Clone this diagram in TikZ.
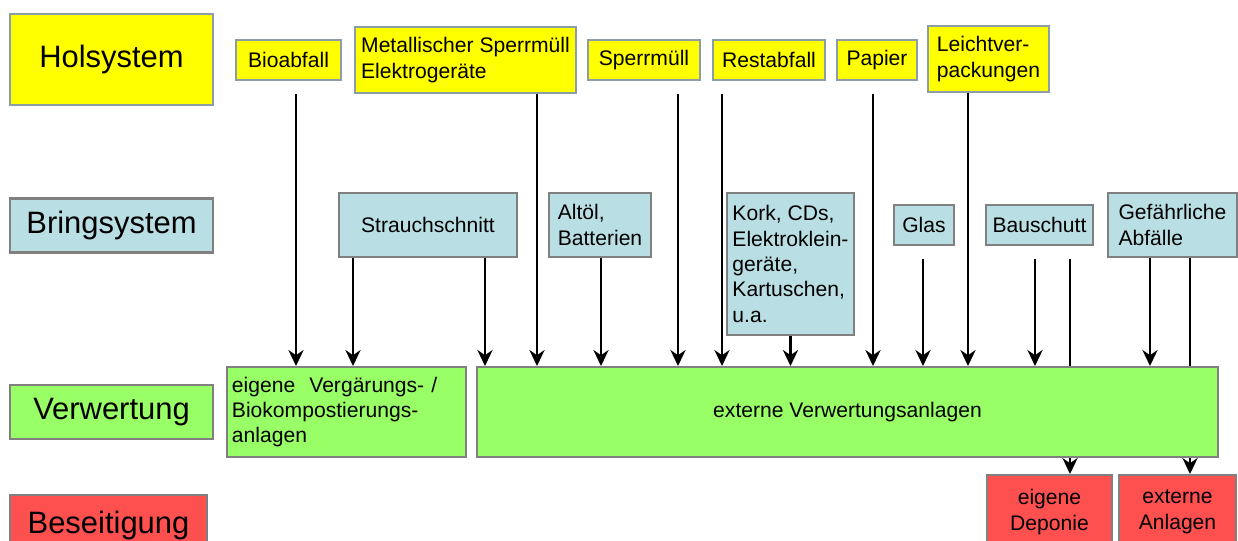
\documentclass[tikz,border=0pt]{standalone}
\usepackage{fontspec}
\setmainfont{Liberation Sans}
\usepackage{tikz}
\usetikzlibrary{arrows.meta}
\definecolor{holyellow}{HTML}{FFFF00}
\definecolor{holframe}{HTML}{8C9DA8}
\definecolor{bringblue}{HTML}{B9DFE4}
\definecolor{verwgreen}{HTML}{99FF66}
\definecolor{beseitred}{HTML}{FF5050}
\definecolor{boxframe}{HTML}{808080}
\tikzstyle{box}=[rectangle, draw=boxframe, line width=1.4pt, inner xsep=0.125cm, inner ysep=0.1cm, align=left, font=\fontsize{15}{18}\selectfont]
\tikzstyle{hol}=[box, draw=holframe, fill=holyellow]
\tikzstyle{bring}=[box, fill=bringblue]
\tikzstyle{verw}=[box, fill=verwgreen]
\tikzstyle{beseit}=[box, fill=beseitred, align=center]
\tikzstyle{stage}=[align=center, line width=1.8pt, font=\fontsize{22}{26}\selectfont, minimum width=5.075cm]
\tikzstyle{arr}=[line width=1.5pt, -{Stealth[length=0.4cm, width=0.38cm, inset=0.13cm]}]
\tikzstyle{plain}=[line width=1.5pt]
\tikzstyle{offbox}=[shorten <=0.325cm]

\begin{document}
\begin{tikzpicture}[x=0.025cm, y=-0.025cm]
\useasboundingbox (0,0) rectangle (1238,540);
\clip (0,0) rectangle (1238,540);

% stages
\node[hol, stage, minimum height=2.275cm] (holsys) at (111.5,59.5) {Holsystem};
\node[bring, stage, minimum height=1.35cm] (bringsys) at (111.5,225.5) {Bringsystem};
\node[verw, stage, minimum height=1.35cm] (verwsys) at (111.5,412) {Verwertung};
\node[beseit, stage, minimum width=4.925cm, minimum height=1.5cm] (beseitsys) at (108.5,525) {Beseitigung};

% Holsystem
\node[hol, minimum width=2.625cm, minimum height=1cm] (bio) at (288.5,60) {Bioabfall};
\node[hol, minimum width=5.525cm, minimum height=1.65cm] (metall) at (465.5,60) {Metallischer Sperrmüll\\Elektrogeräte};
\node[hol, minimum width=2.8cm, minimum height=1cm] (sperr) at (644,60) {Sperrmüll};
\node[hol, minimum width=2.8cm, minimum height=1cm] (rest) at (769,60) {Restabfall};
\node[hol, minimum width=2cm, minimum height=1cm] (papier) at (877,60) {Papier};
\node[hol, minimum width=3.025cm, minimum height=1.65cm] (leicht) at (988.5,59) {Leichtver-\\packungen};

% Bringsystem
\node[bring, minimum width=4.45cm, minimum height=1.6cm] (strauch) at (428,225) {Strauchschnitt};
\node[bring, minimum width=2.55cm, minimum height=1.6cm] (altoel) at (600,225) {Altöl,\\Batterien};
\node[bring, minimum width=3.175cm, minimum height=3.55cm] (kork) at (790.5,264) {Kork, CDs,\\Elektroklein-\\geräte,\\Kartuschen,\\u.a.};
\node[bring, minimum width=1.5cm, minimum height=1cm] (glas) at (924,225) {Glas};
\node[bring, minimum width=2.675cm, minimum height=1cm] (bauschutt) at (1039.5,225) {Bauschutt};
\node[bring, minimum width=3.225cm, minimum height=1.6cm] (gefahr) at (1172.5,225) {Gefährliche\\Abfälle};

% Verwertung
\node[verw, text width=5.725cm, minimum width=5.975cm, minimum height=2.25cm] (eigenverw) at (346.5,412) {eigene~ Vergärungs- /\\Biokompostierungs-\\anlagen};
\node[verw, align=center, minimum width=18.525cm, minimum height=2.25cm] (extverw) at (847.5,412) {externe Verwertungsanlagen};

% Beseitigung
\node[beseit, minimum width=3.125cm, minimum height=1.85cm] (deponie) at (1049.5,512) {eigene\\Deponie};
\node[beseit, minimum width=2.925cm, minimum height=1.85cm] (extanl) at (1177.5,512) {externe\\Anlagen};

% Holsystem -> Verwertung
\draw[arr, offbox] (bio.south -| 296,0) -- (eigenverw.north -| 296,0);
\draw[arr] (metall.south -| 537,0) -- (extverw.north -| 537,0);
\draw[arr, offbox] (sperr.south -| 678,0) -- (extverw.north -| 678,0);
\draw[arr, offbox] (rest.south -| 722,0) -- (extverw.north -| 722,0);
\draw[arr, offbox] (papier.south -| 873,0) -- (extverw.north -| 873,0);
\draw[arr] (leicht.south -| 968,0) -- (extverw.north -| 968,0);

% Bringsystem -> Verwertung
\draw[arr] (strauch.south -| 353,0) -- (eigenverw.north -| 353,0);
\draw[arr] (strauch.south -| 485,0) -- (extverw.north -| 485,0);
\draw[arr] (altoel.south -| 601,0) -- (extverw.north -| 601,0);
\draw[arr] (kork.south) -- (extverw.north -| kork.south);
\draw[arr, offbox] (glas.south -| 923,0) -- (extverw.north -| 923,0);
\draw[arr, offbox] (bauschutt.south -| 1035,0) -- (extverw.north -| 1035,0);
\draw[arr] (gefahr.south -| 1150,0) -- (extverw.north -| 1150,0);

% durch zur Beseitigung
\draw[plain, offbox] (bauschutt.south -| 1070,0) -- (extverw.north -| 1070,0);
\draw[arr] (extverw.south -| 1070,0) -- (deponie.north -| 1070,0);
\draw[plain] (gefahr.south -| 1190,0) -- (extverw.north -| 1190,0);
\draw[arr] (extverw.south -| 1190,0) -- (extanl.north -| 1190,0);
\end{tikzpicture}
\end{document}
